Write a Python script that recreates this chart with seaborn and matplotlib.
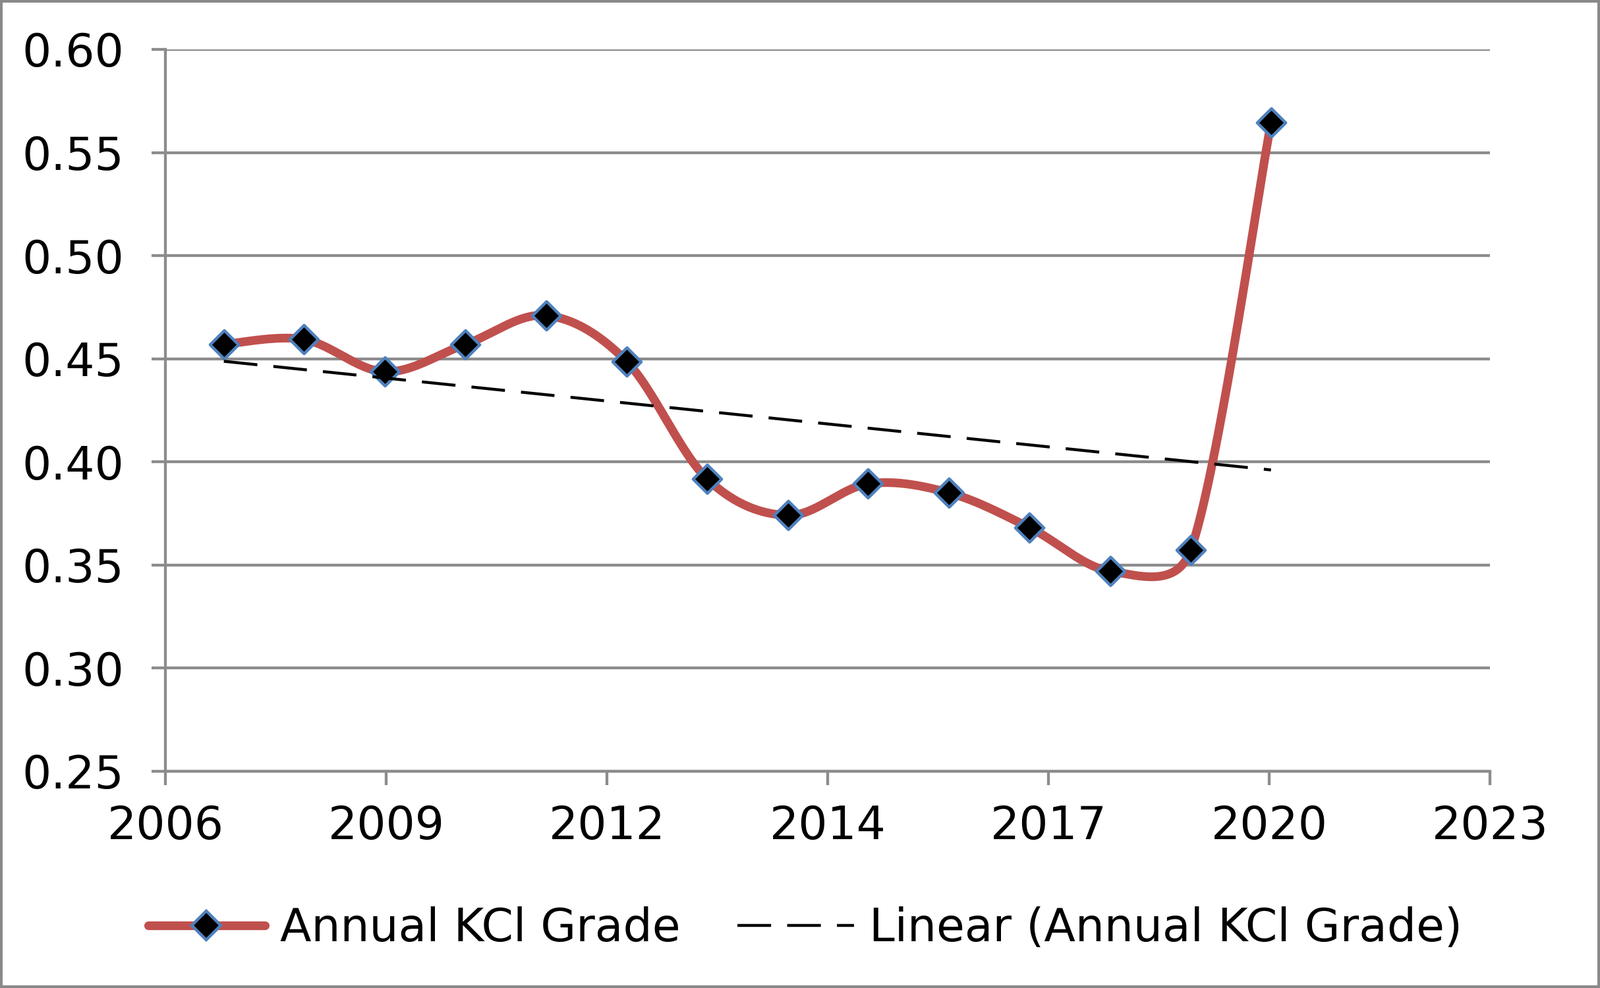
import numpy as np
import pandas as pd
import matplotlib
matplotlib.use("Agg")
import matplotlib.pyplot as plt
from matplotlib.lines import Line2D
import seaborn as sns

years = [2006.75, 2007.78, 2008.82, 2009.85, 2010.89, 2011.92, 2012.95,
         2013.99, 2015.02, 2016.06, 2017.09, 2018.13, 2019.16, 2020.19]
kcl_grade = [0.4570, 0.4594, 0.4437, 0.4570, 0.4710, 0.4487, 0.3919,
             0.3741, 0.3894, 0.3850, 0.3682, 0.3470, 0.3573, 0.5645]
x_ticks_labels = ["2006", "2009", "2012", "2014", "2017", "2020", "2023"]
y_ticks = [0.25, 0.30, 0.35, 0.40, 0.45, 0.50, 0.55, 0.60]

df = pd.DataFrame({"year": years, "grade": kcl_grade})

sns.set_theme(style="white")
plt.rcParams["font.family"] = ["DejaVu Sans"]
plt.rcParams["text.color"] = "black"

GRID = "#8c8c8c"
RED = "#c0504d"
BLUE = "#4f81bd"
FS = 50


def excel_smooth(ax, x, y, n=80):
    # bezier "smoothed line", control arms capped at half the segment (pixel space)
    p = ax.transData.transform(np.column_stack([x, y]))
    p_ext = np.vstack([p[0], p, p[-1]])
    out = []
    t = np.linspace(0, 1, n)[:, None]
    for i in range(len(p) - 1):
        p0, p1, p2, p3 = p_ext[i], p_ext[i + 1], p_ext[i + 2], p_ext[i + 3]
        d12 = np.hypot(*(p2 - p1))
        a1 = (p2 - p0) / 6
        a2 = (p3 - p1) / 6
        if np.hypot(*a1) > d12 / 2:
            a1 = a1 / np.hypot(*a1) * d12 / 2
        if np.hypot(*a2) > d12 / 2:
            a2 = a2 / np.hypot(*a2) * d12 / 2
        c1 = p1 + a1
        c2 = p2 - a2
        seg = ((1 - t) ** 3) * p1 + 3 * ((1 - t) ** 2) * t * c1 + 3 * (1 - t) * t ** 2 * c2 + t ** 3 * p2
        out.append(seg if i == 0 else seg[1:])
    out = ax.transData.inverted().transform(np.vstack(out))
    return out[:, 0], out[:, 1]


fig = plt.figure(figsize=(24.28, 15), dpi=100, linewidth=4.5, edgecolor="#898989")
ax = fig.add_axes([251 / 2428, 1 - 1171 / 1500, (2261 - 251) / 2428, (1171 - 75) / 1500])
ax.set_xlim(2006, 2023)
ax.set_ylim(0.25, 0.60)

sx, sy = excel_smooth(ax, df["year"].values, df["grade"].values)
ax.plot(sx, sy, color=RED, lw=9.5, solid_capstyle="round", zorder=3)
sns.scatterplot(data=df, x="year", y="grade", marker="D", s=22 ** 2, color="black",
                edgecolor=BLUE, linewidth=3.2, ax=ax, zorder=4, legend=False)
sns.regplot(data=df, x="year", y="grade", scatter=False, ci=None, truncate=True, ax=ax,
            line_kws=dict(color="black", lw=3.2, ls=(0, (11.5, 5.5)), zorder=5))

ax.set_xlim(2006, 2023)
ax.set_ylim(0.25, 0.60)
ax.set_xticks(np.linspace(2006, 2023, len(x_ticks_labels)))
ax.set_xticklabels(x_ticks_labels)
ax.set_yticks(y_ticks)
ax.set_yticklabels([f"{v:.2f}" for v in y_ticks])
ax.set_xlabel("")
ax.set_ylabel("")

ax.grid(axis="y", color=GRID, lw=3.1)
ax.grid(axis="x", visible=False)
for side in ["top", "right"]:
    ax.spines[side].set_visible(False)
for side in ["left", "bottom"]:
    ax.spines[side].set_color(GRID)
    ax.spines[side].set_linewidth(3.1)
ax.tick_params(axis="y", length=15, width=3.1, color=GRID, pad=30, labelsize=FS,
               labelcolor="black", direction="out", left=True)
ax.tick_params(axis="x", length=15, width=3.1, color=GRID, pad=21, labelsize=FS,
               labelcolor="black", direction="out", bottom=True)

handles = [
    Line2D([], [], color=RED, lw=9.5, solid_capstyle="round", marker="D", markersize=22,
           markerfacecolor="black", markeredgecolor=BLUE, markeredgewidth=3.2),
    Line2D([], [], color="black", lw=3.2, ls=(0, (11.5, 5.5))),
]
fig.legend(handles, ["Annual KCl Grade", "Linear (Annual KCl Grade)"], loc="center",
           bbox_to_anchor=(0.5033, 0.06), ncol=2, frameon=False, fontsize=FS,
           handlelength=2.55, handletextpad=0.33, columnspacing=1.25, labelcolor="black")

fig.savefig("out.png", dpi=100, edgecolor=fig.get_edgecolor())
